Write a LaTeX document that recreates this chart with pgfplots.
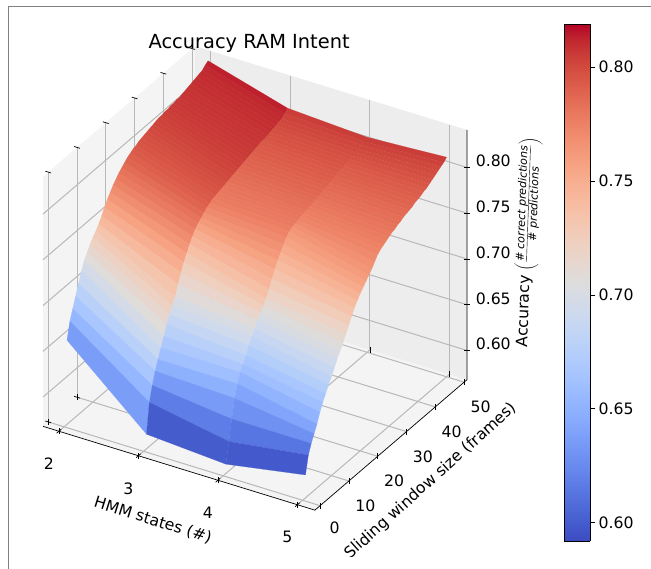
\documentclass[border=0pt]{standalone}
\usepackage{pgfplots}
\usepackage{fontspec}
\setmainfont{DejaVu Sans}
\pgfplotsset{compat=1.18}
\pgfplotsset{colormap={coolwarm}{rgb255=(59,76,192) rgb255=(68,90,204) rgb255=(77,104,215) rgb255=(87,117,225) rgb255=(98,130,234) rgb255=(108,142,241) rgb255=(119,154,247) rgb255=(130,165,251) rgb255=(141,176,254) rgb255=(152,185,255) rgb255=(163,194,255) rgb255=(174,201,253) rgb255=(184,208,249) rgb255=(194,213,244) rgb255=(204,217,238) rgb255=(213,219,230) rgb255=(221,221,221) rgb255=(229,216,209) rgb255=(236,211,197) rgb255=(241,204,185) rgb255=(245,196,173) rgb255=(247,187,160) rgb255=(247,177,148) rgb255=(247,166,135) rgb255=(244,154,123) rgb255=(241,141,111) rgb255=(236,127,99) rgb255=(229,112,88) rgb255=(222,96,77) rgb255=(213,80,66) rgb255=(203,62,56) rgb255=(192,40,47) rgb255=(180,4,38)}}
\definecolor{gridc}{gray}{0.72}
\newcommand{\ticksize}{\fontsize{15.7}{18}\selectfont}
\begin{document}
\begin{tikzpicture}
\begin{axis}[
  disabledatascaling,
  at={(48.2pt,-421.9pt)}, anchor=origin,
  x={(79.5pt,-24.5pt)}, y={(2.88pt,2.47pt)}, z={(0pt,915pt)},
  set layers=standard,
  xmin=1.8, xmax=5.22, ymin=-1.8, ymax=51, zmin=0.568, zmax=0.841,
  xtick={2,3,4,5}, ytick={0,10,20,30,40,50}, ztick={0.6,0.65,0.7,0.75,0.8},
  grid=major, grid style={gridc,line width=1pt},
  axis line style={draw=none},
  tick align=center, major tick length=6pt, tick style={black,line width=0.7pt},
  ztick style={draw=none},
  xtick pos=left, ytick pos=left, ztick pos=right,
  zticklabel pos=right,
  /pgf/number format/assume math mode=true,
  tick label style={font=\ticksize},
  xticklabel style={xshift=-3pt,yshift=-20pt},
  yticklabel style={xshift=4pt,yshift=-11pt},
  zticklabel style={xshift=3pt,/pgf/number format/fixed,/pgf/number format/fixed zerofill,/pgf/number format/precision=2},
  title={Accuracy RAM Intent},
  title style={font=\fontsize{19.4}{22}\selectfont,at={(axis cs:2.48,51,0.856)},anchor=center},
  xlabel={HMM states (\#)},
  ylabel={Sliding window size (frames)},
  zlabel={Accuracy $\left(\frac{\mbox{\fontsize{11}{13}\selectfont\itshape \# correct predictions}}{\mbox{\fontsize{11}{13}\selectfont\itshape \# predictions}}\right)$},
  every axis x label/.style={at={(axis cs:3.83,-19.7,0.568)},rotate=-17.4,anchor=center,font=\ticksize},
  every axis y label/.style={at={(axis cs:5.98,17.5,0.568)},rotate=42,anchor=center,font=\ticksize},
  every axis z label/.style={at={(axis cs:5.76,57,0.7166)},rotate=88,anchor=center,font=\ticksize},
  colormap name=coolwarm, point meta min=0.592, point meta max=0.818,
]
\addplot3[fill={rgb,1:red,0.955;green,0.955;blue,0.955},draw=none,on layer=axis background,forget plot] coordinates {(1.8,-1.8,0.568) (5.22,-1.8,0.568) (5.22,51,0.568) (1.8,51,0.568)};
\addplot3[fill={rgb,1:red,0.955;green,0.955;blue,0.955},draw=none,on layer=axis background,forget plot] coordinates {(1.8,-1.8,0.568) (1.8,51,0.568) (1.8,51,0.841) (1.8,-1.8,0.841)};
\addplot3[fill={rgb,1:red,0.93;green,0.93;blue,0.93},draw=none,on layer=axis background,forget plot] coordinates {(1.8,51,0.568) (5.22,51,0.568) (5.22,51,0.841) (1.8,51,0.841)};
\addplot3[black,line width=0.7pt,on layer=axis ticks,forget plot] coordinates {(1.8,-1.8,0.568) (5.22,-1.8,0.568) (5.22,51,0.568) (5.22,51,0.841)};
\addplot3[only marks,mark=-,mark size=3pt,black,line width=0.7pt,on layer=axis ticks,forget plot] coordinates {(5.22,51,0.6) (5.22,51,0.65) (5.22,51,0.7) (5.22,51,0.75) (5.22,51,0.8)};
\addplot3[surf,shader=faceted,faceted color=mapped color,line width=0.15pt,mesh/cols=4] table[row sep=\\] {
x y z\\
2 1 .660\\ 3 1 .584\\ 4 1 .578\\ 5 1 .593\\
2 2 .678\\ 3 2 .616\\ 4 2 .600\\ 5 2 .612\\
2 3 .689\\ 3 3 .632\\ 4 3 .622\\ 5 3 .622\\
2 4 .700\\ 3 4 .645\\ 4 4 .642\\ 5 4 .630\\
2 5 .711\\ 3 5 .655\\ 4 5 .655\\ 5 5 .638\\
2 6 .722\\ 3 6 .665\\ 4 6 .665\\ 5 6 .648\\
2 7 .731\\ 3 7 .675\\ 4 7 .671\\ 5 7 .656\\
2 8 .737\\ 3 8 .685\\ 4 8 .678\\ 5 8 .663\\
2 9 .743\\ 3 9 .693\\ 4 9 .686\\ 5 9 .670\\
2 10 .748\\ 3 10 .700\\ 4 10 .693\\ 5 10 .676\\
2 11 .752\\ 3 11 .707\\ 4 11 .699\\ 5 11 .683\\
2 12 .757\\ 3 12 .718\\ 4 12 .706\\ 5 12 .690\\
2 13 .763\\ 3 13 .728\\ 4 13 .711\\ 5 13 .696\\
2 14 .770\\ 3 14 .737\\ 4 14 .716\\ 5 14 .702\\
2 15 .776\\ 3 15 .744\\ 4 15 .721\\ 5 15 .709\\
2 16 .781\\ 3 16 .751\\ 4 16 .729\\ 5 16 .716\\
2 17 .786\\ 3 17 .757\\ 4 17 .737\\ 5 17 .723\\
2 18 .790\\ 3 18 .762\\ 4 18 .745\\ 5 18 .730\\
2 19 .794\\ 3 19 .766\\ 4 19 .752\\ 5 19 .735\\
2 20 .797\\ 3 20 .769\\ 4 20 .758\\ 5 20 .740\\
2 21 .800\\ 3 21 .772\\ 4 21 .764\\ 5 21 .744\\
2 22 .803\\ 3 22 .775\\ 4 22 .769\\ 5 22 .748\\
2 23 .805\\ 3 23 .777\\ 4 23 .773\\ 5 23 .752\\
2 24 .807\\ 3 24 .779\\ 4 24 .775\\ 5 24 .756\\
2 25 .808\\ 3 25 .780\\ 4 25 .776\\ 5 25 .761\\
2 26 .810\\ 3 26 .781\\ 4 26 .777\\ 5 26 .766\\
2 27 .811\\ 3 27 .782\\ 4 27 .778\\ 5 27 .769\\
2 28 .812\\ 3 28 .783\\ 4 28 .779\\ 5 28 .771\\
2 29 .813\\ 3 29 .784\\ 4 29 .780\\ 5 29 .773\\
2 30 .814\\ 3 30 .785\\ 4 30 .781\\ 5 30 .775\\
2 31 .815\\ 3 31 .786\\ 4 31 .782\\ 5 31 .777\\
2 32 .816\\ 3 32 .787\\ 4 32 .783\\ 5 32 .778\\
2 33 .817\\ 3 33 .788\\ 4 33 .784\\ 5 33 .780\\
2 34 .817\\ 3 34 .789\\ 4 34 .785\\ 5 34 .781\\
2 35 .818\\ 3 35 .790\\ 4 35 .786\\ 5 35 .783\\
2 36 .818\\ 3 36 .791\\ 4 36 .787\\ 5 36 .784\\
2 37 .819\\ 3 37 .792\\ 4 37 .788\\ 5 37 .785\\
2 38 .819\\ 3 38 .793\\ 4 38 .789\\ 5 38 .786\\
2 39 .820\\ 3 39 .794\\ 4 39 .790\\ 5 39 .788\\
2 40 .820\\ 3 40 .795\\ 4 40 .791\\ 5 40 .789\\
2 41 .821\\ 3 41 .796\\ 4 41 .792\\ 5 41 .790\\
2 42 .822\\ 3 42 .796\\ 4 42 .793\\ 5 42 .792\\
2 43 .823\\ 3 43 .797\\ 4 43 .794\\ 5 43 .793\\
2 44 .824\\ 3 44 .798\\ 4 44 .795\\ 5 44 .795\\
2 45 .825\\ 3 45 .799\\ 4 45 .796\\ 5 45 .797\\
2 46 .826\\ 3 46 .800\\ 4 46 .797\\ 5 46 .799\\
2 47 .827\\ 3 47 .801\\ 4 47 .798\\ 5 47 .801\\
2 48 .828\\ 3 48 .802\\ 4 48 .800\\ 5 48 .803\\
2 49 .831\\ 3 49 .805\\ 4 49 .801\\ 5 49 .805\\
2 50 .833\\ 3 50 .808\\ 4 50 .803\\ 5 50 .808\\
};
\end{axis}
\begin{axis}[
  at={(564pt,-541pt)}, anchor=south west, scale only axis, width=26pt, height=517pt,
  view={0}{90}, xmin=0, xmax=1, ymin=0.592, ymax=0.8189,
  xtick=\empty, ytick={0.6,0.65,0.7,0.75,0.8}, yticklabel pos=right,
  ytick pos=right, tick align=outside, major tick length=5pt, tick style={black,line width=0.7pt},
  axis line style={black,line width=0.9pt},
  /pgf/number format/assume math mode=true,
  yticklabel style={font=\ticksize,/pgf/number format/fixed,/pgf/number format/fixed zerofill,/pgf/number format/precision=2},
  colormap name=coolwarm, point meta min=0.592, point meta max=0.8189,
]
\addplot3[surf,shader=interp,mesh/cols=2,point meta=y] table[row sep=\\] {
x y z\\
0 0.592 0\\ 1 0.592 0\\
0 0.8189 0\\ 1 0.8189 0\\
};
\end{axis}
\fill[white] (0pt,-557pt) rectangle (651pt,-569pt);
\draw[gray,line width=1pt] (8pt,-569pt) -- (8pt,-6.5pt) -- (651pt,-6.5pt);
\pgfresetboundingbox
\path[use as bounding box] (0pt,0pt) rectangle (651pt,-569pt);
\end{tikzpicture}
\end{document}
